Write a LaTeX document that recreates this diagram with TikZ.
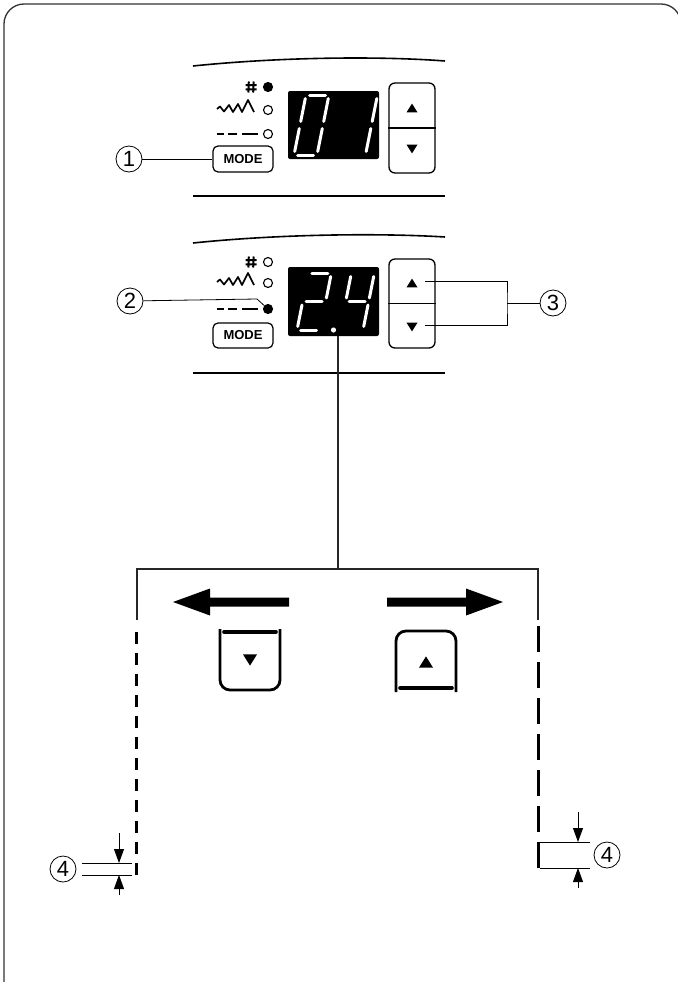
\documentclass[tikz,border=0pt]{standalone}
\usepackage{fontspec}
\setmainfont{Liberation Sans}
\usetikzlibrary{arrows.meta}
\tikzset{
 frame/.style={line width=1.3pt, draw=black!80, rounded corners=20pt},
 lbl/.style={circle, draw, line width=0.8pt, minimum size=26pt, inner sep=0pt, font=\fontsize{22}{22}\selectfont},
 modebtn/.style={draw, rounded corners=5pt, line width=1.2pt, minimum width=60pt, minimum height=26pt, inner sep=0pt, font=\bfseries\fontsize{13}{13}\selectfont},
 disp/.style={fill=black, rounded corners=2pt, minimum width=91pt, minimum height=68pt, inner sep=0pt},
 udbtn/.style={draw, rounded corners=6pt, line width=1.3pt, minimum width=46pt, minimum height=90pt, inner sep=0pt},
 seg/.style={white, line width=3pt, line cap=round},
 leader/.style={line width=0.8pt},
 conn/.style={line width=1.2pt, draw=black!85},
 panelline/.style={line width=1.6pt},
 hashline/.style={line width=2pt},
 led/.style={circle, draw, line width=1.1pt, minimum size=9pt, inner sep=0pt},
 ledon/.style={led, fill=black},
 iconline/.style={line width=1.7pt, line join=round},
 bigbtn/.style={line width=2.8pt, rounded corners=10pt},
 bar/.style={line width=3.6pt, line cap=round},
 dimarrow/.style={line width=0.8pt, -{Triangle[length=14pt,width=10pt]}},
 stitchL/.style={line width=3pt, dash pattern=on 12pt off 9pt},
 stitchR/.style={line width=3pt, dash pattern=on 26pt off 10pt},
}
\newcommand\gp{3.5}
\newcommand\dW{23}
\newcommand\SA{\draw[seg] (\gp,-\dH) -- (\dW-\gp,-\dH);}
\newcommand\SB{\draw[seg] (\dW,-\dH+\gp) -- (\dW,-\dH/2-\gp);}
\newcommand\SC{\draw[seg] (\dW,-\dH/2+\gp) -- (\dW,-\gp);}
\newcommand\SD{\draw[seg] (\gp,0) -- (\dW-\gp,0);}
\newcommand\SE{\draw[seg] (0,-\gp) -- (0,-\dH/2+\gp);}
\newcommand\SF{\draw[seg] (0,-\dH/2-\gp) -- (0,-\dH+\gp);}
\newcommand\SG{\draw[seg] (\gp,-\dH/2) -- (\dW-\gp,-\dH/2);}
\newcommand\uptri[2]{\fill[shift={(#1)}] (-#2,0.8*#2) -- (#2,0.8*#2) -- (0,-0.8*#2) -- cycle;}
\newcommand\dntri[2]{\fill[shift={(#1)}] (-#2,-0.8*#2) -- (#2,-0.8*#2) -- (0,0.8*#2) -- cycle;}
\newcommand\zigicon[1]{\draw[iconline, shift={(#1)}] (0,0) -- (3,-2.5) -- (7,2.5) -- (12,-4) -- (16,3) -- (21,-5) -- (25,3) -- (31,-9) -- (37,3);}
\newcommand\dashicon[1]{\draw[iconline, shift={(#1)}] (0,0) -- (7,0) (11,0) -- (20,0) (25,0) -- (41,0);}
\newcommand\hashicon[1]{\draw[hashline, shift={(#1)}] (-2.2,-5.5) -- (-2.6,5.5) (2.6,-5.5) -- (2.2,5.5) (-5.5,-2) -- (5.5,-2) (-5.5,2.3) -- (5.5,2.3);}
\begin{document}
\begin{tikzpicture}[x=1pt,y=-1pt]
\useasboundingbox (0,0) rectangle (677,982);
\draw[frame] (4,1000) -- (4,4) -- (681,4) -- (681,1000);

% ---------- top panel ----------
\draw[panelline] (193,66) .. controls (280,57) and (380,56) .. (445,61);
\draw[panelline] (193,196) -- (445,196);
\coordinate (h1) at (251,87);
\hashicon{h1}
\node[ledon] (l1) at (268,87) {};
\node[led] (l2) at (268,110) {};
\node[led] (l3) at (268,134) {};
\zigicon{217,109}
\dashicon{217,134}
\node[modebtn] (m1) at (243,159) {MODE};
\node[lbl] (c1) at (129,159) {1};
\draw[leader] (c1) -- (m1);
\node[disp] (d1) at (333.5,125) {};
\begin{scope}[shift={(294,155)}, xslant=0.2]
 \def\dH{60}\SA\SB\SC\SD\SE\SF
\end{scope}
\begin{scope}[shift={(342.5,155)}, xslant=0.2]
 \def\dH{60}\SB\SC
\end{scope}
\node[udbtn] (u1) at (412,128) {};
\draw[line width=1.3pt] (u1.west) -- (u1.east);
\uptri{412,108}{5.5}
\dntri{412,149}{5.5}

% ---------- second panel ----------
\draw[panelline] (193,243) .. controls (280,234) and (380,233) .. (445,237);
\draw[panelline] (193,373) -- (445,373);
\coordinate (h2) at (251,262);
\hashicon{h2}
\node[led] (l4) at (268,262) {};
\node[led] (l5) at (268,283) {};
\node[ledon] (l6) at (268,309) {};
\zigicon{217,282}
\dashicon{217,309}
\node[modebtn, minimum height=25pt] (m2) at (243,335.5) {MODE};
\node[lbl] (c2) at (130,301) {2};
\coordinate (k2) at (257,299);
\draw[leader] (c2) -- (k2) -- (l6);
\node[disp, minimum height=69pt] (d2) at (333.5,301.5) {};
\begin{scope}[shift={(297,330)}, xslant=0.2]
 \def\dH{57}\SA\SB\SG\SE\SD
\end{scope}
\fill[white] (d2.center) ++(0,28.5) circle (2.6pt);
\begin{scope}[shift={(340,330)}, xslant=0.2]
 \def\dH{57}\SF\SG\SB\SC
\end{scope}
\node[udbtn, minimum height=89pt] (u2) at (412,303.5) {};
\draw[line width=1.3pt] (u2.west) -- (u2.east);
\uptri{412,283}{5.5}
\dntri{412,327}{5.5}
\coordinate (t1) at (425,281);
\coordinate (t2) at (425,325);
\coordinate (tj) at (507,303);
\node[lbl] (c3) at (553,303) {3};
\draw[leader] (t1) -| (tj) |- (t2);
\draw[leader] (tj) -- (c3);

% ---------- connectors ----------
\coordinate (jn) at (338,569);
\coordinate (lb) at (137,620);
\coordinate (rb) at (538,620);
\draw[conn] (d2.south -| jn) -- (jn);
\draw[conn] (lb) |- (jn) -| (rb);

% big arrows
\fill (289,597.5) -- (210,597.5) -- (210,588.5) -- (173,602) -- (210,615.5) -- (210,606.5) -- (289,606.5) -- cycle;
\fill (387,597.5) -- (466,597.5) -- (466,588.5) -- (503,602) -- (466,615.5) -- (466,606.5) -- (387,606.5) -- cycle;

% down button
\draw[bigbtn] (220,629) -- (220,690) -- (280,690) -- (280,629);
\draw[bar] (224,632) -- (276,632);
\dntri{250,660}{7}
% up button
\draw[bigbtn] (396,692) -- (396,631) -- (456,631) -- (456,692);
\draw[bar] (400,688) -- (452,688);
\uptri{426,662}{7}

% stitches
\coordinate (sl1) at (136,632);
\coordinate (sl2) at (136,875);
\coordinate (sr1) at (538,626);
\coordinate (sr2) at (538,868);
\draw[stitchL] (sl1) -- (sl2);
\draw[stitchR] (sr1) -- (sr2);

% dimension left
\draw[leader] (82,863) -- (132,863);
\draw[leader] (82,875) -- (132,875);
\coordinate (al1) at (119,833);
\coordinate (al2) at (119,863);
\coordinate (al3) at (119,895);
\coordinate (al4) at (119,875);
\draw[dimarrow] (al1) -- (al2);
\draw[dimarrow] (al3) -- (al4);
\node[lbl] (c4) at (63,869) {4};
% dimension right
\draw[leader] (540,842) -- (590,842);
\draw[leader] (540,868) -- (590,868);
\coordinate (ar1) at (578,812);
\coordinate (ar2) at (578,842);
\coordinate (ar3) at (578,888);
\coordinate (ar4) at (578,868);
\draw[dimarrow] (ar1) -- (ar2);
\draw[dimarrow] (ar3) -- (ar4);
\node[lbl] (c5) at (607,855) {4};
\end{tikzpicture}
\end{document}
